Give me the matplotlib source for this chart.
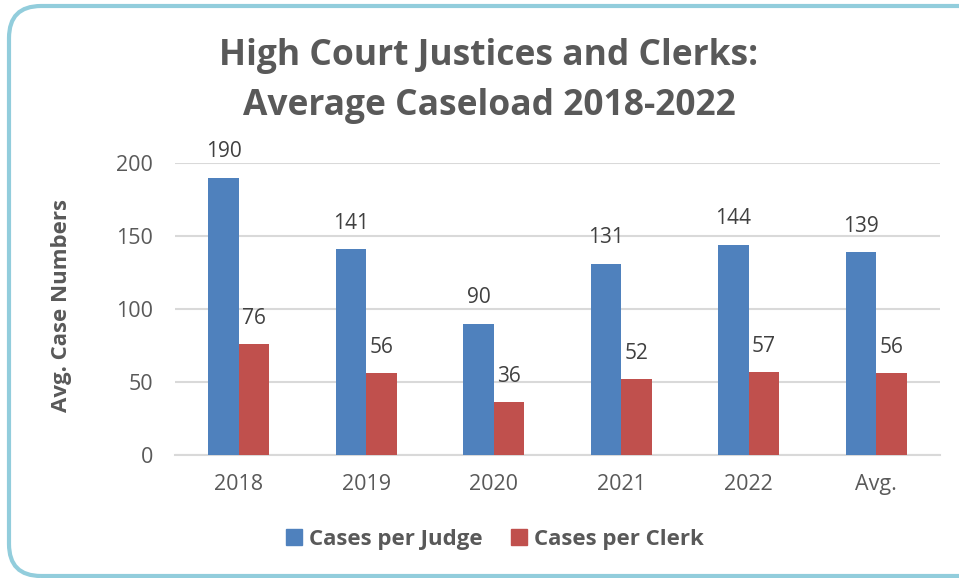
import numpy as np
import matplotlib.pyplot as plt
from matplotlib.patches import FancyBboxPatch
from matplotlib.lines import Line2D
from matplotlib.transforms import IdentityTransform

plt.rcParams['font.family'] = ['Open Sans', 'DejaVu Sans']

years = ['2018', '2019', '2020', '2021', '2022', 'Avg.']
per_judge = [190, 141, 90, 131, 144, 139]
per_clerk = [76, 56, 36, 52, 57, 56]

blue = '#4F81BD'
red = '#C0504D'
grey_txt = '#595959'

fig = plt.figure(figsize=(9.59, 5.78), dpi=100)
ax = fig.add_axes([175 / 959, 123 / 578, 765 / 959, 292 / 578])

x = np.arange(len(years))
w = 0.24
b1 = ax.bar(x - w / 2, per_judge, w, color=blue, zorder=3)
b2 = ax.bar(x + w / 2, per_clerk, w, color=red, zorder=3)

for bars, vals in ((b1, per_judge), (b2, per_clerk)):
    for rect, v in zip(bars, vals):
        ax.annotate(str(v), (rect.get_x() + rect.get_width() / 2, v),
                    xytext=(0, 11), textcoords='offset points',
                    ha='center', va='bottom', fontsize=15, color='#404040')

ax.set_xlim(-0.5, len(years) - 0.5)
ax.set_ylim(0, 200)
ax.set_yticks([0, 50, 100, 150, 200])
ax.set_xticks(x)
ax.set_xticklabels(years)
ax.tick_params(length=0, labelsize=15.5, colors=grey_txt)
ax.tick_params(axis='y', pad=16)
ax.tick_params(axis='x', pad=14)
ax.yaxis.grid(True, color='#D9D9D9', lw=1.5, zorder=0)
for s in ('top', 'right', 'left'):
    ax.spines[s].set_visible(False)
ax.spines['bottom'].set_color('#D9D9D9')
ax.spines['bottom'].set_linewidth(1.5)

fig.text(489 / 959, 1 - 81 / 578,
         'High Court Justices and Clerks:\nAverage Caseload 2018-2022',
         ha='center', va='center', fontsize=25.5, fontweight='bold',
         color=grey_txt, linespacing=1.55)

fig.text(62 / 959, 1 - 305 / 578, 'Avg. Case Numbers', rotation=90,
         ha='center', va='center', fontsize=16, fontweight='bold',
         color=grey_txt)

handles = [Line2D([], [], marker='s', ls='', color=blue, markersize=11),
           Line2D([], [], marker='s', ls='', color=red, markersize=11)]
fig.legend(handles, ['Cases per Judge', 'Cases per Clerk'],
           loc='center', bbox_to_anchor=(495 / 959, 39 / 578), ncol=2,
           frameon=False, handlelength=0.7, handletextpad=0.3,
           columnspacing=1.3,
           prop={'size': 16, 'weight': 'bold'}, labelcolor=grey_txt)

# rounded frame, running off the right edge
frame = FancyBboxPatch((9, 2), 985, 570, boxstyle='round,pad=0,rounding_size=32',
                       transform=IdentityTransform(), fill=False,
                       ec='#92CDDC', lw=3)
fig.patches.append(frame)

fig.savefig('out.png', dpi=100)
